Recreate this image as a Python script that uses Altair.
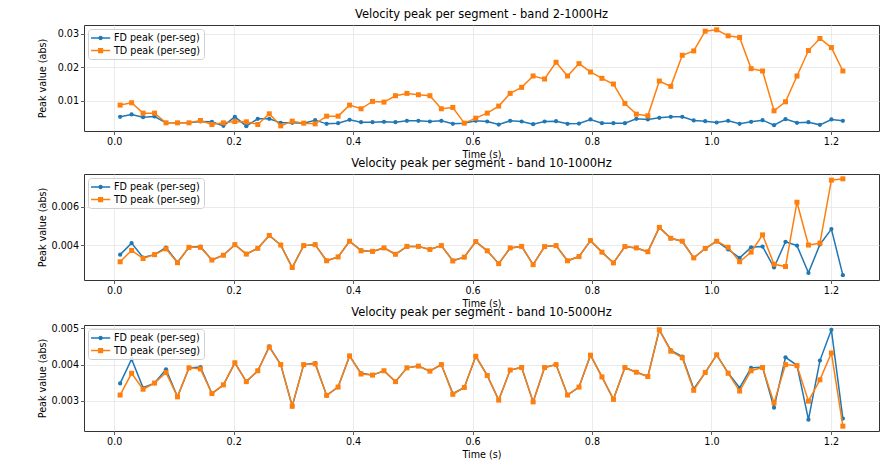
import altair as alt
import numpy as np
import pandas as pd

# segment centre times in seconds: 64 segments from 0.01 s to 1.22 s
times = np.linspace(0.01, 1.22, 64)

# peak values, in units of 1e-3
fd_2_1000 = [5.2, 5.9, 5.1, 5.3, 3.4, 3.4, 3.4, 3.8, 3.7, 2.5,
             5.2, 2.4, 4.6, 4.6, 3.4, 3.4, 3.3, 4.2, 3.1, 3.3,
             4.3, 3.6, 3.6, 3.7, 3.6, 4.0, 4.0, 3.8, 4.0, 3.1,
             3.3, 4.0, 3.8, 2.9, 4.0, 3.8, 3.0, 3.8, 3.9, 3.1,
             3.2, 4.4, 3.3, 3.3, 3.3, 4.6, 4.4, 4.9, 5.2, 5.2,
             4.1, 3.9, 3.5, 4.0, 3.1, 3.7, 4.2, 2.7, 4.5, 3.4,
             3.6, 2.8, 4.4, 4.0]
td_2_1000 = [8.7, 9.4, 6.3, 6.3, 3.4, 3.4, 3.4, 4.1, 2.9, 3.4,
             3.8, 3.7, 2.9, 6.1, 2.5, 3.9, 3.3, 3.1, 5.4, 5.4,
             8.7, 7.6, 9.8, 9.6, 11.5, 12.2, 11.8, 11.5, 7.6, 8.0,
             3.3, 4.8, 6.3, 8.4, 12.2, 14.0, 17.4, 16.5, 21.5, 17.4,
             21.1, 18.6, 16.7, 15.0, 9.2, 6.0, 5.5, 15.9, 14.3, 23.6,
             24.9, 30.8, 31.2, 29.4, 28.9, 19.6, 18.9, 7.0, 9.7, 17.4,
             25.0, 28.6, 25.9, 18.9]

fd_10_1000 = [3.50, 4.10, 3.35, 3.50, 3.87, 3.10, 3.88, 3.92, 3.22, 3.47,
              4.02, 3.53, 3.83, 4.50, 4.00, 2.83, 3.97, 4.02, 3.18, 3.38,
              4.20, 3.72, 3.67, 3.85, 3.52, 3.93, 3.93, 3.77, 3.97, 3.19,
              3.37, 4.18, 3.70, 3.03, 3.85, 3.93, 2.98, 3.92, 3.97, 3.18,
              3.40, 4.23, 3.63, 3.07, 3.92, 3.85, 3.65, 4.92, 4.35, 4.20,
              3.33, 3.82, 4.20, 3.77, 3.33, 3.88, 3.92, 2.83, 4.17, 3.97,
              2.55, 4.03, 4.83, 2.43]
td_10_1000 = [3.13, 3.72, 3.30, 3.50, 3.80, 3.08, 3.88, 3.88, 3.22, 3.47,
              4.02, 3.53, 3.83, 4.50, 4.00, 2.83, 3.97, 4.02, 3.18, 3.38,
              4.20, 3.70, 3.67, 3.85, 3.52, 3.93, 3.93, 3.77, 3.97, 3.17,
              3.37, 4.18, 3.70, 3.03, 3.85, 3.93, 2.98, 3.92, 3.97, 3.18,
              3.40, 4.23, 3.63, 3.07, 3.92, 3.85, 3.65, 4.92, 4.35, 4.20,
              3.33, 3.82, 4.20, 3.88, 3.13, 3.63, 4.53, 3.00, 2.88, 6.23,
              4.00, 4.10, 7.38, 7.45]

fd_10_5000 = [3.48, 4.15, 3.36, 3.49, 3.87, 3.11, 3.91, 3.93, 3.20, 3.44,
              4.05, 3.53, 3.83, 4.50, 4.00, 2.85, 4.00, 4.04, 3.15, 3.38,
              4.24, 3.76, 3.71, 3.83, 3.53, 3.91, 3.96, 3.82, 4.00, 3.20,
              3.37, 4.23, 3.70, 3.02, 3.85, 3.92, 2.97, 3.92, 4.00, 3.16,
              3.38, 4.26, 3.66, 3.04, 3.92, 3.79, 3.67, 4.96, 4.39, 4.22,
              3.33, 3.78, 4.27, 3.77, 3.36, 3.91, 3.93, 2.81, 4.20, 3.98,
              2.48, 4.11, 4.96, 2.51]
td_10_5000 = [3.16, 3.76, 3.32, 3.49, 3.78, 3.11, 3.91, 3.88, 3.20, 3.44,
              4.05, 3.53, 3.83, 4.48, 4.00, 2.85, 4.00, 4.02, 3.15, 3.38,
              4.24, 3.74, 3.71, 3.83, 3.53, 3.91, 3.96, 3.82, 4.00, 3.18,
              3.37, 4.23, 3.70, 3.02, 3.85, 3.92, 2.97, 3.92, 4.00, 3.16,
              3.38, 4.26, 3.66, 3.04, 3.92, 3.79, 3.67, 4.96, 4.37, 4.19,
              3.29, 3.78, 4.27, 3.76, 3.27, 3.83, 3.92, 2.94, 4.00, 3.97,
              2.99, 3.58, 4.32, 2.30]

bands = [
    ("2-1000Hz", fd_2_1000, td_2_1000, [0.01, 0.02, 0.03], ".2f"),
    ("10-1000Hz", fd_10_1000, td_10_1000, [0.004, 0.006], ".3f"),
    ("10-5000Hz", fd_10_5000, td_10_5000, [0.003, 0.004, 0.005], ".3f"),
]
x_ticks = [0.0, 0.2, 0.4, 0.6, 0.8, 1.0, 1.2]

FD_LABEL = "FD peak (per-seg)"
TD_LABEL = "TD peak (per-seg)"
BLUE = "#1f77b4"
ORANGE = "#ff7f0e"
FONT = "DejaVu Sans"

# legend handles: a short line with the marker on it (units of 6 px)
FD_HANDLE = "M-1,-0.125H2.2V0.125H-1Z M0.97,0A0.37,0.37 0 1,1 0.23,0A0.37,0.37 0 1,1 0.97,0Z"
TD_HANDLE = "M-1,-0.125H2.2V0.125H-1Z M0.17,-0.43H1.03V0.43H0.17Z"


def render_band(band, fd, td, y_ticks, y_format):
    frame = pd.DataFrame({
        "time": times,
        FD_LABEL: np.array(fd) * 1e-3,
        TD_LABEL: np.array(td) * 1e-3,
    })
    melted = frame.melt("time", var_name="series", value_name="value")

    lo, hi = melted["value"].min(), melted["value"].max()
    pad = (hi - lo) * 0.05
    t_pad = (times.max() - times.min()) * 0.05

    base = alt.Chart(melted).encode(
        x=alt.X(
            "time:Q",
            title="Time (s)",
            scale=alt.Scale(domain=[float(times.min() - t_pad), float(times.max() + t_pad)], nice=False, zero=False),
            axis=alt.Axis(values=x_ticks, format=".1f"),
        ),
        y=alt.Y(
            "value:Q",
            title="Peak value (abs)",
            scale=alt.Scale(domain=[float(lo - pad), float(hi + pad)], nice=False, zero=False),
            axis=alt.Axis(values=y_ticks, format=y_format, minExtent=34, maxExtent=34),
        ),
    )

    layers = []
    for label, color, shape, size in [(FD_LABEL, BLUE, "circle", 18), (TD_LABEL, ORANGE, "square", 25)]:
        one = base.transform_filter(alt.datum.series == label)
        layers.append(one.mark_line(color=color, strokeWidth=1.5))
        layers.append(one.mark_point(color=color, shape=shape, size=size, filled=True, opacity=1))

    legend = alt.Legend(
        title=None,
        orient="top-left",
        offset=4,
        padding=3,
        rowPadding=1.6,
        symbolSize=144,
        symbolStrokeWidth=0,
        symbolOpacity=1,
        labelOffset=11,
        labelFontSize=9.6,
        labelFont=FONT,
        labelColor="#000000",
        strokeColor="#d0d0d0",
        fillColor="rgba(255,255,255,0.85)",
        cornerRadius=3,
    )
    key = base.transform_filter("false").mark_point(filled=True, opacity=1).encode(
        color=alt.Color(
            "series:N",
            scale=alt.Scale(domain=[FD_LABEL, TD_LABEL], range=[BLUE, ORANGE]),
            legend=legend,
        ),
        shape=alt.Shape(
            "series:N",
            scale=alt.Scale(domain=[FD_LABEL, TD_LABEL], range=[FD_HANDLE, TD_HANDLE]),
            legend=legend,
        ),
    )

    return alt.layer(*layers, key).properties(
        width=795,
        height=106,
        title=f"Velocity peak per segment - band {band}",
    )


panels = [render_band(*band) for band in bands]

chart = (
    alt.vconcat(*panels, spacing=-3)
    .resolve_scale(color="independent", shape="independent")
    .resolve_legend(color="independent", shape="independent")
    .properties(padding={"left": 28, "top": 0, "right": 0, "bottom": 0})
    .configure(font=FONT)
    .configure_view(stroke="#333333", strokeWidth=1)
    .configure_axis(
        domain=False,
        grid=True,
        gridColor="#e6e6e6",
        gridWidth=0.8,
        tickColor="#333333",
        tickSize=3.5,
        tickWidth=0.8,
        labelFont=FONT,
        labelFontSize=9.6,
        labelColor="#000000",
        labelPadding=2,
        titleFont=FONT,
        titleFontSize=9.6,
        titleFontWeight="normal",
        titleColor="#000000",
        titlePadding=3,
    )
    .configure_title(font=FONT, fontSize=11.5, fontWeight="normal", color="#000000", offset=5)
)

chart.save("out.html", embed_options={"renderer": "svg", "actions": False})
